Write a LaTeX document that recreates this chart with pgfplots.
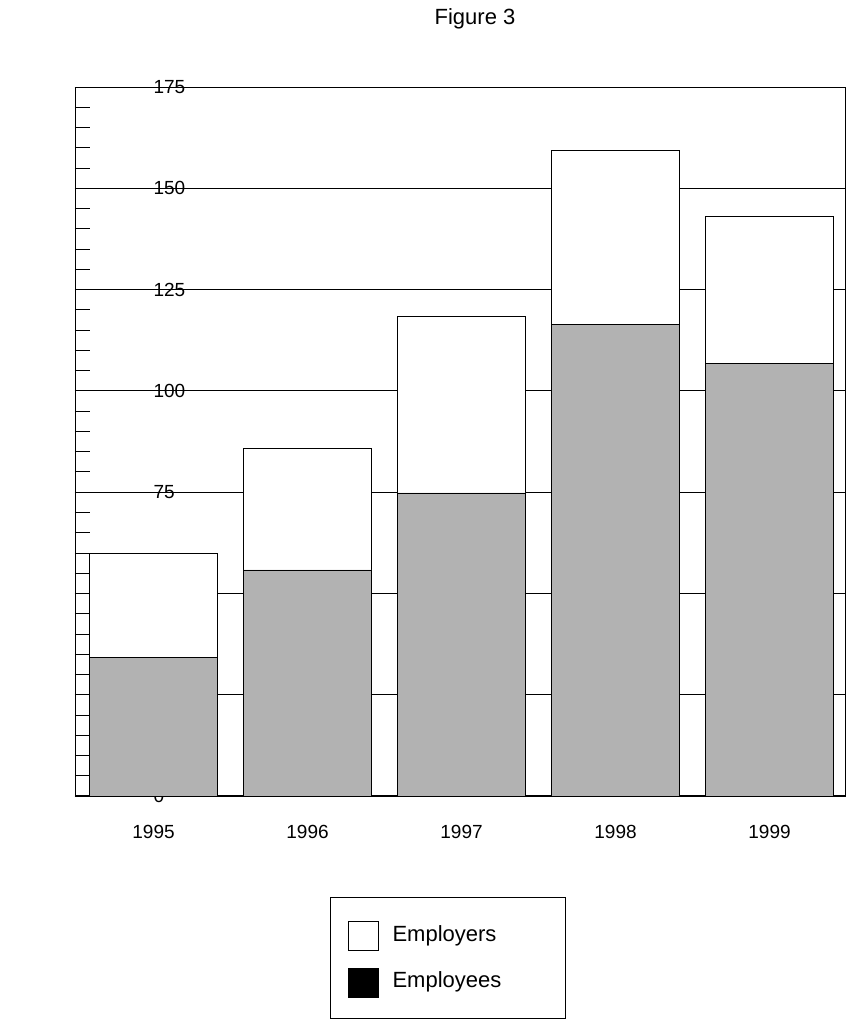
\documentclass[border=0pt]{standalone}
\usepackage{pgfplots}
\pgfplotsset{compat=1.18}
\usepackage{fontspec}
\setmainfont{Liberation Sans}
\begin{document}
\begin{tikzpicture}
\path (0,0) rectangle (849bp,1019bp);
\node[font=\fontsize{22bp}{24bp}\selectfont] at (475bp,1000bp) {Figure 3};
\begin{axis}[at={(75bp,223bp)},anchor=south west,scale only axis,
  width=770bp,height=709bp,
  ybar stacked, bar width=128bp,
  xmin=-0.51,xmax=4.49,ymin=0,ymax=175,
  xtick={0,1,2,3,4},xticklabels={1995,1996,1997,1998,1999},
  major x tick style={draw=none},
  ytick={0,25,...,175},minor y tick num=4,
  ymajorgrids, grid style={black,line width=0.8pt},
  tick align=inside, ytick pos=left,
  major tick length=15bp, minor tick length=15bp,
  tick style={black,line width=0.8pt},
  axis line style={line width=0.8pt},
  /pgf/number format/assume math mode=true,
  ticklabel style={font=\fontsize{19bp}{21bp}\selectfont},
  yticklabel style={anchor=west},
  yticklabel shift=-75bp,
  xticklabel style={yshift=-26bp},
]
\addplot[fill=black!30,draw=black,line width=0.8pt] coordinates {(0,34.3) (1,55.8) (2,74.8) (3,116.5) (4,106.7)};
\addplot[fill=white,draw=black,line width=0.8pt] coordinates {(0,25.7) (1,29.9) (2,43.5) (3,42.8) (4,36.3)};
\draw[line width=2pt] (axis cs:-0.51,0) -- (axis cs:4.49,0);
\node[white,font=\fontsize{24bp}{26bp}\selectfont] at (axis cs:0,27.8) {39};
\node[white,font=\fontsize{24bp}{26bp}\selectfont] at (axis cs:1,49.3) {56};
\node[white,font=\fontsize{24bp}{26bp}\selectfont] at (axis cs:2,68.3) {75};
\node[white,font=\fontsize{24bp}{26bp}\selectfont] at (axis cs:3,110) {117};
\node[white,font=\fontsize{24bp}{26bp}\selectfont] at (axis cs:4,100.2) {107};
\node[font=\fontsize{24bp}{26bp}\selectfont] at (axis cs:0,53.5) {25};
\node[font=\fontsize{24bp}{26bp}\selectfont] at (axis cs:1,79.2) {30};
\node[font=\fontsize{24bp}{26bp}\selectfont] at (axis cs:2,111.8) {44};
\node[font=\fontsize{24bp}{26bp}\selectfont] at (axis cs:3,152.8) {43};
\node[font=\fontsize{24bp}{26bp}\selectfont] at (axis cs:4,136.5) {37};
\end{axis}
\draw[line width=0.8pt] (330bp,1bp) rectangle (565bp,122bp);
\draw[line width=0.8pt,fill=white] (348bp,69bp) rectangle (378bp,98bp);
\draw[line width=0.8pt,fill=black] (348bp,22bp) rectangle (378bp,51bp);
\node[anchor=west,font=\fontsize{22bp}{24bp}\selectfont] at (389bp,83bp) {Employers};
\node[anchor=west,font=\fontsize{22bp}{24bp}\selectfont] at (389bp,37bp) {Employees};
\end{tikzpicture}
\end{document}
